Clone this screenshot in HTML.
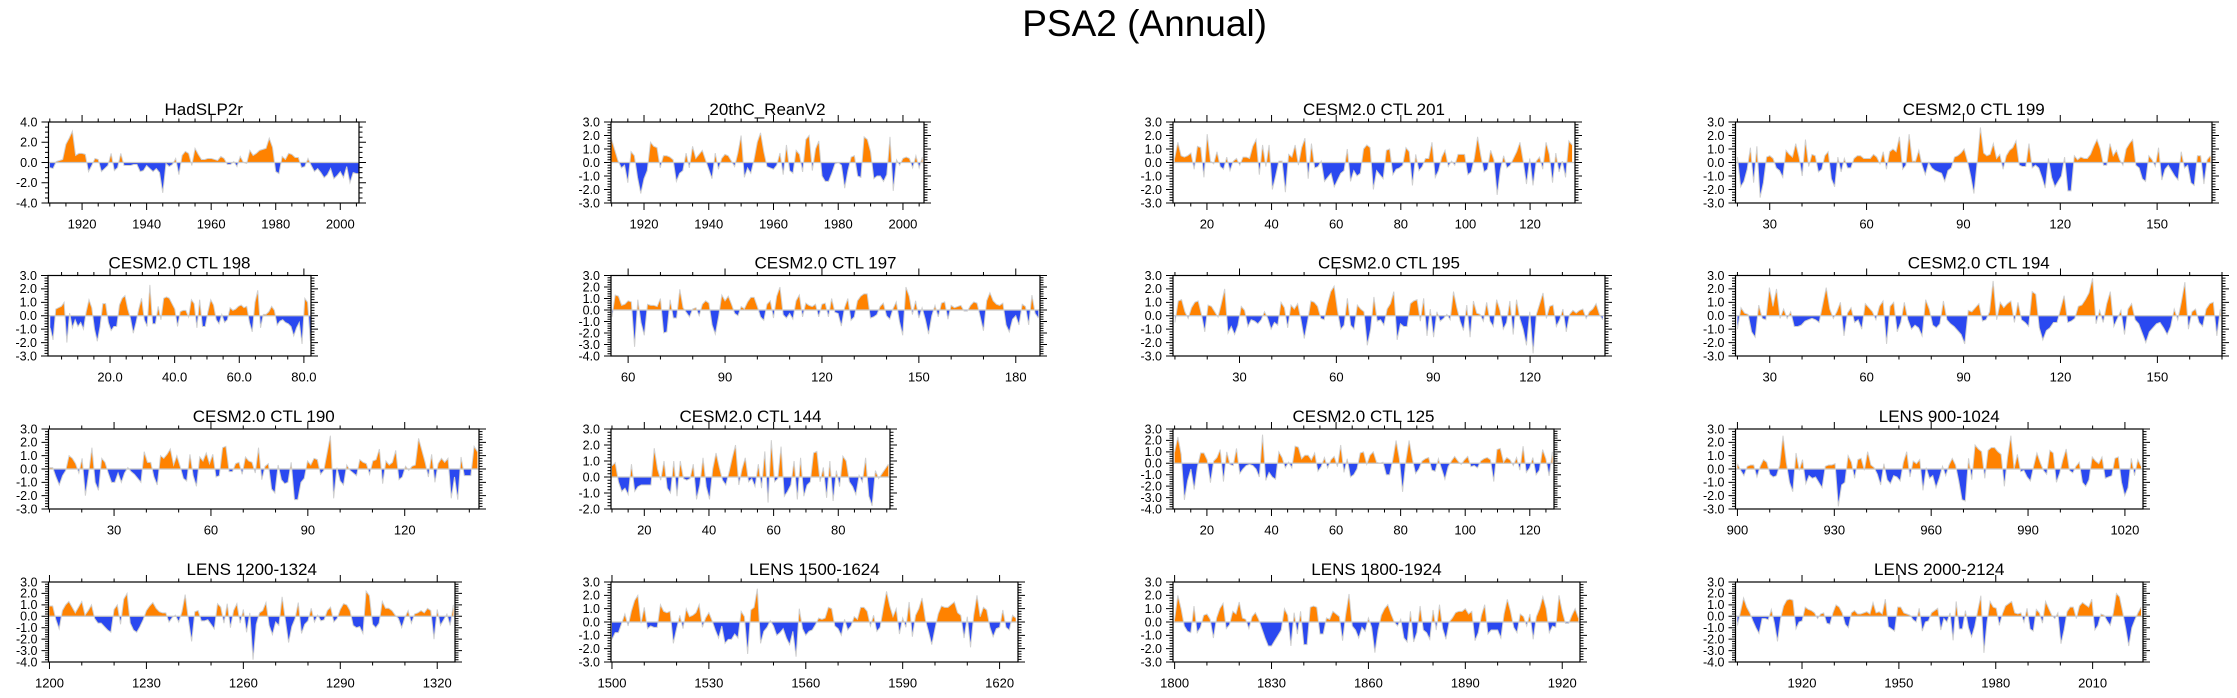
<!DOCTYPE html>
<html><head><meta charset="utf-8"><title>PSA2 (Annual)</title>
<style>
html,body{margin:0;padding:0;background:#fff;}
svg{display:block;font-family:"Liberation Sans",Arial,sans-serif;}
</style></head>
<body>
<svg id="fig" width="2237" height="698" viewBox="0 0 2237 698" xmlns="http://www.w3.org/2000/svg">
<text x="1267" y="36" text-anchor="end" font-size="37" fill="#000">PSA2 (Annual)</text>
</svg>
<script>
// ---- data ----
const hadslp2rValues=[-0.5,-0.6,0.1,0.2,0.3,1.8,2.4,3.1,0.7,0.9,0.9,0.8,-0.9,-0.3,0.4,0.3,-0.9,-0.6,-0.3,0.9,-0.8,-0.5,0.9,-0.3,-0.3,-0.3,-0.2,-0.2,-0.9,-0.8,-0.3,-0.6,-0.9,-0.6,-1.0,-3.0,-0.1,-0.4,-0.2,0.4,-1.2,0.7,1.1,0.9,-0.3,1.4,0.8,0.3,0.3,0.4,0.4,0.3,0.2,0.6,0.4,-0.2,-0.2,0.1,-0.4,0.6,0.0,-0.1,1.2,0.7,0.9,1.2,1.3,1.4,2.4,1.5,-0.9,-1.1,0.6,0.3,0.9,0.8,0.5,0.5,-0.5,-0.4,0.4,-0.3,-0.9,-0.6,-1.0,-1.5,-1.2,-0.6,-1.6,-1.3,-0.9,-1.5,-0.4,-2.0,-1.0,-1.1,-1.1];
const reanv2Values=[1.7,0.9,0.1,-0.4,-0.2,-1.5,0.8,0.5,-1.1,-2.3,-1.2,-0.6,1.5,1.2,1.1,-0.4,0.5,0.5,0.4,0.2,-1.4,-0.8,-0.6,0.7,-0.4,1.2,0.3,0.6,0.9,0.2,-0.5,-1.2,0.7,-0.5,0.3,0.6,0.5,0.1,-0.3,0.7,2.0,-1.1,-0.4,-0.8,0.2,1.5,2.2,0.8,-0.3,-0.4,-0.5,-0.2,0.7,-0.9,1.3,-0.6,-0.8,0.9,0.6,-0.7,1.7,2.0,-0.6,1.0,1.6,-1.0,-1.4,-1.4,-0.8,-0.1,0.0,-0.2,-1.9,-0.6,0.4,0.5,-1.0,-1.1,1.9,1.7,0.8,-1.2,-1.0,-1.0,-1.4,-0.9,1.9,-2.1,0.2,-0.2,0.3,0.4,0.3,-0.4,0.5,-0.4,0.4];
const ctl201Values=[0.3,1.5,0.5,0.4,0.5,0.7,-0.5,1.2,1.1,-1.1,2.1,0.1,-0.1,0.8,-0.3,-0.5,0.4,-0.6,0.1,0.3,-0.2,0.4,0.4,0.3,1.2,1.7,-0.9,1.3,-0.3,1.3,-2.0,-1.0,0.1,0.1,-2.2,0.6,0.4,1.3,-0.2,1.1,1.8,-1.2,1.4,-0.4,-0.3,0.1,-1.4,-1.1,-0.8,-1.8,-1.3,-0.8,-0.6,1.0,-1.4,-0.6,-1.0,-0.8,1.0,1.3,1.1,-2.0,-0.6,-0.9,-1.2,0.9,1.0,-0.9,-0.5,-0.4,-0.2,1.1,0.8,-1.7,0.6,-0.6,-0.3,0.3,0.3,1.5,-1.1,-0.6,0.4,0.9,-0.3,0.1,-0.2,0.6,0.6,0.6,-0.9,-0.7,0.3,1.9,0.5,-0.7,-0.5,0.9,0.2,-2.4,-0.5,0.5,-0.4,-0.2,0.3,0.8,1.5,0.1,-1.6,0.3,-1.7,0.1,0.4,-0.5,1.5,0.6,-1.5,0.7,-0.7,0.1,-1.1,1.6,1.3];
const ctl199Values=[0.4,-1.8,-1.4,-0.5,1.1,-1.5,1.2,-2.6,-1.5,0.4,0.5,0.3,-0.4,-0.6,-1.1,0.9,0.6,0.4,1.4,0.4,-1.0,1.7,-0.3,0.6,0.5,-0.7,-0.5,0.5,0.8,-1.2,-1.8,0.4,-0.7,0.3,-0.4,-0.4,0.3,0.5,0.5,0.3,0.3,0.3,0.6,0.4,-0.1,0.8,-0.5,0.8,1.0,0.8,1.9,-0.5,-0.2,2.1,0.1,0.1,0.9,-0.2,-0.9,0.0,-0.4,-0.6,-0.7,-0.8,-1.4,-0.6,-0.4,0.4,0.5,0.7,1.0,0.1,-1.0,-2.3,0.0,2.6,0.7,0.5,0.6,1.4,0.3,0.6,-0.5,0.5,0.9,1.1,1.6,-0.2,-0.3,-0.3,1.4,-0.4,-0.2,-0.4,-1.1,-1.9,0.3,-1.1,-1.8,-1.4,-1.0,0.4,-2.1,-2.1,0.5,0.2,0.4,0.3,0.3,0.6,1.2,1.7,1.0,-0.2,-0.2,1.4,0.5,0.9,0.2,-0.2,1.0,1.4,1.7,-0.2,-0.4,-1.2,-1.4,0.5,0.2,-0.3,1.1,-1.3,-0.5,-0.2,-0.6,-1.0,-1.3,0.8,-0.4,-0.2,-1.5,-1.7,0.5,0.5,-1.6,0.2,0.5];
const ctl198Values=[-0.9,-1.8,0.5,0.6,0.7,1.0,-2.0,0.2,-0.9,-0.3,-0.8,-0.5,-1.0,0.3,1.2,0.6,-1.0,-1.9,-0.8,0.9,0.9,-0.5,-1.1,-0.8,-0.8,0.8,1.3,1.5,0.5,-0.2,-1.3,-0.5,0.5,1.3,-0.3,-0.8,2.3,-0.6,-0.6,0.7,-0.3,1.3,1.4,1.3,0.9,0.5,-0.8,0.3,0.4,0.4,-0.1,1.2,0.9,-0.9,1.2,-0.8,-0.8,0.3,1.2,0.8,-0.3,-0.6,0.1,-0.5,-0.3,0.6,0.4,0.5,0.7,0.8,0.6,0.7,-0.5,-1.2,1.0,1.9,-0.9,0.1,0.1,0.3,0.7,0.4,-0.7,-0.4,-0.3,-0.5,-0.6,-0.8,-1.5,-0.9,-0.5,-2.1,1.3,1.0,-1.9];
const ctl197Values=[-0.6,1.3,1.2,0.4,0.5,0.8,0.7,-3.2,0.9,-1.1,-2.2,0.5,0.4,0.4,0.3,1.0,-2.0,-1.9,0.9,-0.7,-0.7,1.8,0.2,-0.2,-0.6,0.1,0.2,-0.5,0.5,0.8,0.6,-1.3,-2.1,-0.6,1.3,0.8,1.2,0.5,-0.3,-0.5,0.3,0.1,0.7,1.1,1.1,0.3,-0.6,-0.9,0.5,0.8,-0.7,1.2,2.0,-0.4,-0.7,-0.3,-0.8,0.8,1.3,-0.6,0.6,0.4,0.3,0.5,-0.6,0.5,0.6,-0.6,1.0,-0.2,-0.3,-1.4,0.2,1.0,-0.9,-0.6,0.8,1.2,1.4,1.4,-0.7,-0.6,-0.4,0.3,0.6,-0.5,-0.8,0.1,0.7,-1.0,-2.2,2.0,1.2,-0.4,0.8,-0.7,0.2,-0.8,-2.1,-0.5,0.4,-0.6,0.6,0.7,-0.8,0.4,0.2,0.3,0.4,-0.1,-0.1,0.4,0.7,0.6,-0.6,-1.8,0.8,1.5,0.8,0.5,0.4,0.6,-1.3,-1.9,-0.8,-0.5,-1.3,0.5,0.3,-1.3,1.3,-0.3,-0.7];
const ctl195Values=[-0.5,1.1,1.2,0.3,-0.2,0.6,1.0,1.1,0.1,-1.2,0.8,0.7,0.3,-0.1,0.9,2.0,-1.3,-0.8,-1.4,-0.7,0.7,0.4,-0.8,-0.3,-0.4,-0.6,-0.3,0.3,-0.2,-1.0,-0.5,-0.7,1.0,0.6,-0.9,0.8,0.5,0.9,-0.3,-1.7,-0.4,1.1,1.0,0.7,-0.2,-0.3,0.9,1.8,2.2,0.4,-1.0,-0.7,1.3,-0.7,-1.0,0.8,0.5,0.3,-2.2,-1.0,1.4,-0.4,-0.3,-0.7,0.5,0.9,1.8,-1.8,-0.6,-0.8,-0.8,0.9,1.1,1.2,-0.4,1.3,-1.5,0.5,-1.6,0.3,-0.4,-0.2,0.1,-0.3,1.8,0.6,-0.4,-1.1,0.8,-1.6,1.1,0.2,0.1,-0.4,1.0,-0.4,-0.8,1.2,0.4,-1.0,-0.5,1.1,-1.4,1.2,-0.2,-1.0,-2.2,0.3,-2.8,0.1,0.9,1.7,-0.2,0.7,0.8,-0.8,-0.3,0.5,-1.2,0.1,0.4,0.2,0.4,0.5,-0.2,0.3,0.5,0.9,0.1,-0.3];
const ctl194Values=[-1.0,0.6,0.2,0.1,-1.2,-1.6,0.8,-0.2,-0.3,2.1,0.7,2.0,-0.2,0.5,-0.2,0.3,-0.8,-0.8,-0.7,-0.4,-0.3,-0.2,-0.3,-0.5,0.8,2.1,0.5,-0.2,0.3,1.0,-1.5,0.2,0.6,-0.5,-0.3,-1.0,0.9,0.6,0.3,-0.3,0.7,1.1,-2.1,0.7,1.0,-1.2,-0.5,1.0,-0.3,-1.0,-0.7,-0.9,-1.5,1.2,0.5,-0.7,-0.9,-0.6,1.1,-0.3,-0.6,-0.8,-1.1,-1.4,-2.1,0.4,0.3,0.6,0.9,-0.4,-0.3,0.3,2.6,-0.3,1.0,0.6,0.9,1.1,-0.5,1.0,-0.3,-0.5,-0.8,1.8,1.6,-0.9,-1.8,-1.1,-0.9,-0.5,-0.5,0.5,1.5,-0.5,-0.4,-0.2,0.7,0.8,1.2,1.7,2.8,-0.6,0.4,-0.5,0.9,1.8,-0.8,-0.2,0.4,-1.4,0.5,0.9,-0.3,-0.6,-1.3,-2.0,-1.2,-0.9,-0.6,-0.5,-0.9,-1.4,-0.8,0.5,-0.3,1.0,2.5,-1.0,0.3,0.5,-0.5,-0.8,0.5,0.9,1.0,-1.5,0.5];
const ctl190Values=[0.1,0.1,-0.6,-1.2,-0.5,-0.1,1.0,0.8,0.4,-0.3,0.8,-2.0,-0.3,1.6,-1.0,-1.6,0.8,0.5,-0.3,-1.0,-1.0,-0.3,-1.0,-0.3,0.1,-0.2,-0.4,-0.7,-1.0,1.3,0.5,0.5,-0.6,-1.2,1.0,0.8,1.1,1.5,0.3,1.0,0.2,-0.7,-0.9,1.1,-0.5,-1.3,0.9,0.6,1.2,0.4,1.1,-0.6,-0.5,1.6,1.7,-0.2,-0.2,0.4,0.5,-0.4,0.9,0.6,0.5,-0.3,1.6,-0.8,0.2,0.4,-1.5,-1.8,0.3,-0.8,-1.1,-1.0,0.5,-2.3,-2.3,-1.0,-0.7,0.6,0.3,0.8,0.7,-0.4,-0.1,1.2,2.5,-2.2,0.1,-0.9,-1.2,0.3,-0.1,-0.3,-0.5,0.7,0.5,0.4,-0.4,0.6,0.7,1.5,-1.1,0.6,0.3,0.5,1.4,-0.8,-0.6,0.2,-0.1,0.2,0.3,2.3,1.4,0.5,-0.6,1.1,-1.0,0.4,0.8,0.5,0.8,-2.2,-0.6,-2.3,0.9,-0.5,-0.5,-0.5,1.7,1.3];
const ctl144Values=[0.7,0.9,-0.3,-0.9,-0.7,-1.1,0.8,-0.9,-0.6,-0.5,-0.5,-0.5,-0.5,1.8,0.5,-0.2,1.0,-0.7,-1.0,1.0,-1.2,1.0,-0.1,-0.2,-0.1,0.8,-1.4,-0.5,1.2,-0.6,-1.4,0.5,1.5,0.6,-0.2,-0.5,0.3,1.2,2.0,-0.5,0.5,1.2,-0.3,-0.1,-0.6,0.8,-0.7,1.6,-1.6,2.3,-0.3,-0.1,1.9,-1.2,-0.9,-0.5,1.0,-1.4,1.2,-1.2,-0.5,-0.3,1.5,1.6,-0.3,0.6,-1.3,1.0,-1.5,0.4,-0.6,1.3,1.0,-0.3,-0.6,-1.1,0.1,-0.3,1.2,-1.2,-1.8,0.4,-0.1,0.2,0.5,0.8];
const ctl125Values=[1.0,2.3,0.8,-3.2,-1.5,-0.5,-2.3,-0.3,0.9,0.9,0.3,-1.7,0.2,0.5,1.2,-1.6,1.0,-0.1,-0.2,1.3,-0.9,-0.5,-0.2,-0.1,-0.2,-0.5,-1.2,2.5,-1.5,-0.8,-1.2,-1.4,1.0,0.5,-0.4,0.1,-0.4,1.5,1.4,0.4,0.7,0.7,0.3,0.9,-0.7,-0.3,0.5,-0.4,0.3,0.6,-0.3,1.6,-0.8,0.4,-1.2,-1.0,-0.5,0.9,1.0,-0.1,0.7,1.0,0.1,0.0,0.1,-1.0,-1.0,0.3,2.0,0.4,-2.5,0.2,2.0,0.4,-0.9,-0.5,0.2,0.4,0.5,-0.6,-0.7,0.4,-0.5,-1.4,-0.3,0.2,0.6,0.2,-0.1,0.3,0.6,-0.3,-0.2,-0.4,0.2,0.4,0.5,0.3,-1.6,1.2,1.3,0.1,0.5,0.3,-0.2,0.5,-0.6,1.5,-0.8,-0.4,0.5,-1.0,-0.6,1.2,0.4,-1.1,1.0];
const lens900Values=[0.4,-0.1,-0.5,0.2,0.3,0.3,-0.6,0.2,0.7,0.5,-0.4,-0.6,-0.5,0.3,2.5,0.5,-1.0,-1.7,1.2,-0.1,0.7,-1.1,-0.5,-0.7,-0.6,-1.0,-1.4,0.2,0.3,0.3,0.4,-2.8,-1.2,-1.0,1.0,0.5,-0.7,0.7,0.8,-0.1,1.3,0.3,0.1,-0.4,-1.2,0.4,-0.8,-1.1,-0.5,-0.6,-0.9,0.5,1.3,-0.6,0.6,0.4,0.7,-1.6,0.1,-0.7,-0.5,-1.4,-0.7,0.2,-0.5,0.3,0.8,0.3,-0.9,-2.3,-2.4,0.8,-0.8,1.8,1.5,1.3,-0.7,1.4,1.6,1.6,1.3,1.1,-1.3,0.9,2.5,0.0,1.1,-0.2,-0.1,-0.6,-0.9,0.2,1.2,0.5,-0.1,-0.4,1.4,1.2,-1.0,-0.3,0.7,1.5,-0.1,-0.3,0.2,0.5,-1.0,-1.3,-0.8,0.9,0.6,0.4,0.9,-0.7,-0.6,-0.5,0.8,0.9,-1.0,-2.0,-1.4,0.8,-0.5,0.7,0.2];
const lens1200Values=[0.9,0.9,-0.3,-1.1,0.5,1.0,1.3,0.8,0.3,0.8,1.3,0.1,0.5,1.0,-0.2,-0.6,-0.6,-0.9,-1.2,-1.4,0.6,1.0,-0.7,1.5,2.0,-0.6,-1.2,-1.4,-0.9,-0.3,0.5,0.9,1.2,0.7,0.4,0.3,0.3,-0.5,-0.1,0.1,-0.5,0.4,1.9,-0.3,-2.2,0.4,0.5,-0.4,-0.4,-0.3,-0.7,-1.1,1.1,0.8,-0.6,1.1,-1.0,0.5,1.1,-0.6,0.6,-1.4,0.3,-3.8,-0.7,0.3,0.5,1.2,-0.8,-1.6,-0.5,-0.8,1.7,-0.3,-2.3,-0.9,-0.2,1.2,-1.5,-0.7,-0.4,0.7,-0.5,0.1,-0.4,-0.3,0.5,0.8,-0.5,-0.2,0.6,1.1,1.0,0.5,-0.8,-1.0,-0.9,-1.5,2.2,1.8,-0.7,-1.0,-0.6,1.3,0.7,0.7,0.5,0.1,-0.2,-1.0,-0.1,0.5,-0.6,0.2,0.3,0.5,0.3,0.7,0.5,-2.0,0.6,-0.8,-0.3,0.2,-0.8,1.0];
const lens1500Values=[-1.3,-0.8,-0.8,-0.1,0.6,-0.3,0.8,1.6,2.0,-0.1,1.1,-0.5,-0.3,-0.4,-0.4,1.3,0.8,0.7,0.8,-1.6,-0.5,0.5,-0.5,1.0,0.4,0.5,0.7,1.3,-0.4,0.3,0.7,0.1,-0.6,-1.2,-0.3,-1.6,-1.3,-1.3,-0.9,-1.2,0.8,0.4,-2.4,0.9,1.1,2.5,-1.6,-0.7,-0.4,0.1,-0.3,-1.0,-0.8,-0.5,-1.2,-1.7,-0.7,-2.6,1.0,-0.5,-1.0,-0.7,-0.6,-0.2,0.3,0.2,0.3,1.1,1.0,-0.3,-0.5,-1.0,0.2,-0.6,-0.3,0.4,0.2,1.1,1.1,0.8,-0.3,0.5,-0.7,-0.4,1.0,2.3,1.2,0.4,1.0,-0.9,0.3,-0.4,1.5,-1.1,0.5,1.0,1.8,0.2,-0.7,-1.7,-0.5,0.6,1.2,1.1,1.1,1.3,1.5,0.7,0.5,-1.2,0.4,-1.9,0.5,2.0,0.4,1.1,0.9,-0.4,-1.1,-0.5,-0.4,0.9,-0.4,-0.6,0.5,0.3];
const lens1800Values=[0.2,2.0,1.0,-0.3,-0.7,-0.8,1.2,-0.8,-0.4,0.5,0.6,0.2,-1.2,0.3,1.0,1.4,-0.5,-0.2,0.8,0.6,1.5,0.3,0.2,-0.5,0.4,0.7,0.2,-0.5,-1.2,-1.8,-1.8,-1.4,-1.0,-0.6,1.0,0.5,-1.8,0.7,-0.9,0.8,-1.7,-1.7,1.1,1.2,1.1,-0.9,-0.9,0.3,0.2,0.8,0.6,0.4,-1.4,0.6,2.1,-0.3,-0.6,-1.2,-0.4,-0.7,0.3,-0.4,-2.3,-0.6,0.5,1.0,1.3,0.6,0.0,-0.3,0.2,-1.2,-1.5,0.8,-1.5,-0.8,1.2,-0.6,-0.8,-1.3,0.9,-0.6,1.3,-0.5,-1.3,0.0,0.3,0.7,0.8,0.8,1.0,0.6,0.8,-1.4,-0.8,0.5,1.3,-0.9,-0.6,-0.6,-0.6,-1.2,0.6,1.7,0.8,-0.4,-0.8,0.6,0.4,-0.3,0.6,-1.3,0.4,1.0,1.9,1.0,-0.8,-0.3,-0.4,2.0,0.8,-0.1,-0.1,0.5,1.0,0.3];
const lens2000Values=[-0.8,0.4,1.6,0.8,0.3,-0.4,-1.0,-1.5,-0.2,-0.2,-0.3,0.6,-0.6,-2.2,-0.2,0.9,1.4,1.5,1.4,-1.1,-0.5,-0.4,0.8,0.6,0.5,0.3,-0.2,0.2,0.3,-0.6,-0.7,0.3,1.0,0.8,0.3,-0.7,-1.0,0.3,0.5,0.2,0.2,0.3,0.4,0.2,1.2,0.3,0.4,0.2,1.5,-0.9,-1.1,-1.3,0.8,0.8,0.3,0.2,0.1,-0.3,-0.5,0.7,-1.3,-0.5,-0.4,0.3,0.5,0.7,-1.2,-0.2,-0.5,0.3,-2.1,1.3,-1.1,-1.1,0.5,-1.0,-1.8,-0.9,0.5,1.8,-3.2,-0.5,1.3,0.8,0.7,-0.8,0.2,0.9,1.1,1.3,0.3,0.2,0.3,-0.5,0.7,-1.1,-1.3,0.6,0.3,-0.6,1.3,0.7,0.1,-0.2,0.3,-2.4,-1.2,0.4,0.8,0.8,-0.2,0.9,1.2,1.0,0.8,1.5,-1.2,-0.8,0.2,0.1,-0.4,-0.8,0.3,2.0,1.7,0.4,-1.0,-2.6,-1.0,-0.3,0.3,0.8];

// tick label arrays
const hadslp2rYTicks=[-4,-2,0,2,4];
const yTicks3=[-3,-2,-1,0,1,2,3];
const yTicks43=[-4,-3,-2,-1,0,1,2,3];
const yTicks23=[-2,-1,0,1,2,3];
const xTicksCentury=[1920,1940,1960,1980,2000];
const xTicksBy20=[20,40,60,80,100,120];
const xTicksBy30=[30,60,90,120,150];
const xTicks198=[20,40,60,80];
const xTicks197=[60,90,120,150,180];
const xTicks144=[20,40,60,80];
const xTicks900=[900,930,960,990,1020];
const xTicks1200=[1200,1230,1260,1290,1320];
const xTicks1500=[1500,1530,1560,1590,1620];
const xTicks1800=[1800,1830,1860,1890,1920];
const xTicks2000=[1920,1950,1980,2010];

// ---- layout ----
const R1=[122,203],R2=[275.5,356],R3=[429,509],R4=[582,662];
const panels=[
 {id:'hadslp2r',title:'HadSLP2r',vals:hadslp2rValues,d0:1910,d1:2006,x0:1909.6,x1:2005.8,yt:hadslp2rYTicks,ymin:-4,ymax:4,ym:0.5,xt:xTicksCentury,xm:5,dec:0,box:[48.5,359],row:R1},
 {id:'20thc-reanv2',title:'20thC_ReanV2',vals:reanv2Values,d0:1910,d1:2006,x0:1909.8,x1:2006.5,yt:yTicks3,ymin:-3,ymax:3,ym:0.2,xt:xTicksCentury,xm:5,dec:0,box:[611,924],row:R1},
 {id:'ctl-201',title:'CESM2.0 CTL 201',vals:ctl201Values,d0:10,d1:133,x0:9.5,x1:133.9,yt:yTicks3,ymin:-3,ymax:3,ym:0.2,xt:xTicksBy20,xm:5,dec:0,box:[1173,1575],row:R1},
 {id:'ctl-199',title:'CESM2.0 CTL 199',vals:ctl199Values,d0:20,d1:166.5,x0:19.4,x1:167,yt:yTicks3,ymin:-3,ymax:3,ym:0.2,xt:xTicksBy30,xm:10,dec:0,box:[1735.5,2212],row:R1},
 {id:'ctl-198',title:'CESM2.0 CTL 198',vals:ctl198Values,d0:1.5,d1:82,x0:0.8,x1:82.2,yt:yTicks3,ymin:-3,ymax:3,ym:0.2,xt:xTicks198,xm:5,dec:1,box:[48,311],row:R2},
 {id:'ctl-197',title:'CESM2.0 CTL 197',vals:ctl197Values,d0:55,d1:187,x0:54.7,x1:187.5,yt:yTicks43,ymin:-4,ymax:3,ym:0.2,xt:xTicks197,xm:10,dec:0,box:[611,1040],row:R2},
 {id:'ctl-195',title:'CESM2.0 CTL 195',vals:ctl195Values,d0:10,d1:142.5,x0:9.4,x1:143.2,yt:yTicks3,ymin:-3,ymax:3,ym:0.2,xt:xTicksBy30,xm:10,dec:0,box:[1173,1605],row:R2},
 {id:'ctl-194',title:'CESM2.0 CTL 194',vals:ctl194Values,d0:20,d1:169.5,x0:19.4,x1:170,yt:yTicks3,ymin:-3,ymax:3,ym:0.2,xt:xTicksBy30,xm:10,dec:0,box:[1735.5,2222],row:R2},
 {id:'ctl-190',title:'CESM2.0 CTL 190',vals:ctl190Values,d0:10,d1:142.5,x0:9.7,x1:143,yt:yTicks3,ymin:-3,ymax:3,ym:0.2,xt:xTicksBy30,xm:10,dec:0,box:[48.5,479],row:R3},
 {id:'ctl-144',title:'CESM2.0 CTL 144',vals:ctl144Values,d0:10,d1:95.5,x0:9.7,x1:96,yt:yTicks23,ymin:-2,ymax:3,ym:0.2,xt:xTicks144,xm:5,dec:0,box:[611,890],row:R3},
 {id:'ctl-125',title:'CESM2.0 CTL 125',vals:ctl125Values,d0:10,d1:127,x0:9.5,x1:127.5,yt:yTicks43,ymin:-4,ymax:3,ym:0.2,xt:xTicksBy20,xm:5,dec:0,box:[1173,1554],row:R3},
 {id:'lens-900',title:'LENS 900-1024',vals:lens900Values,d0:900,d1:1025,x0:899.4,x1:1025.6,yt:yTicks3,ymin:-3,ymax:3,ym:0.2,xt:xTicks900,xm:10,dec:0,box:[1735.5,2143],row:R3},
 {id:'lens-1200',title:'LENS 1200-1324',vals:lens1200Values,d0:1200,d1:1325,x0:1199.7,x1:1325.5,yt:yTicks43,ymin:-4,ymax:3,ym:0.2,xt:xTicks1200,xm:10,dec:0,box:[48.5,455],row:R4},
 {id:'lens-1500',title:'LENS 1500-1624',vals:lens1500Values,d0:1500,d1:1625,x0:1499.7,x1:1625.7,yt:yTicks3,ymin:-3,ymax:3,ym:0.2,xt:xTicks1500,xm:10,dec:0,box:[611,1018],row:R4},
 {id:'lens-1800',title:'LENS 1800-1924',vals:lens1800Values,d0:1800,d1:1925,x0:1799.5,x1:1925.5,yt:yTicks3,ymin:-3,ymax:3,ym:0.2,xt:xTicks1800,xm:10,dec:0,box:[1173,1580],row:R4},
 {id:'lens-2000',title:'LENS 2000-2124',vals:lens2000Values,d0:1900,d1:2025,x0:1899.4,x1:2025.6,yt:yTicks43,ymin:-4,ymax:3,ym:0.2,xt:xTicks2000,xm:10,dec:0,box:[1735.5,2143],row:R4}
];

const NS='http://www.w3.org/2000/svg';
const svg=document.getElementById('fig');
function mk(tag,attrs,parent){const e=document.createElementNS(NS,tag);for(const k in attrs)e.setAttribute(k,attrs[k]);parent.appendChild(e);return e;}

panels.forEach((p,pi)=>{
  const L=p.box[0],Rt=p.box[1],T=p.row[0],B=p.row[1];
  const sx=v=>L+(v-p.x0)/(p.x1-p.x0)*(Rt-L);
  const sy=v=>B-(v-p.ymin)/(p.ymax-p.ymin)*(B-T);
  const g=mk('g',{},svg);
  
  
  const cid='clip'+pi;
  const defs=mk('defs',{},g);
  const cpA=mk('clipPath',{id:cid+'a'},defs);
  mk('rect',{x:L,y:T,width:Rt-L,height:sy(0)-T},cpA);
  const cpB=mk('clipPath',{id:cid+'b'},defs);
  mk('rect',{x:L,y:sy(0),width:Rt-L,height:B-sy(0)},cpB);
  const n=p.vals.length;
  const pts=p.vals.map((v,i)=>[sx(p.d0+i*(p.d1-p.d0)/(n-1)),sy(v)]);
  const line=pts.map(q=>q[0].toFixed(2)+','+q[1].toFixed(2)).join(' ');
  const area=pts[0][0].toFixed(2)+','+sy(0).toFixed(2)+' '+line+' '+pts[n-1][0].toFixed(2)+','+sy(0).toFixed(2);
  const above=mk('polygon',{points:area,fill:'#ff8200','clip-path':'url(#'+cid+'a)'},g);
  
  
  const below=mk('polygon',{points:area,fill:'#2a48f0','clip-path':'url(#'+cid+'b)'},g);
  
  
  const zl=mk('line',{x1:L,x2:Rt,y1:sy(0),y2:sy(0),stroke:'#c8c8c8','stroke-width':1.2},g);
  
  
  const pl=mk('polyline',{points:line,fill:'none',stroke:'#d0d0d0','stroke-width':1},g);
  
  
  const bx=mk('rect',{x:L,y:T,width:Rt-L,height:B-T,fill:'none',stroke:'#000','stroke-width':1.2},g);
  
  
  // ticks
  let tp='';
  for(let v=p.ymin;v<=p.ymax+1e-6;v+=p.ym){const y=sy(v);const maj=p.yt.some(t=>Math.abs(t-v)<1e-6);const len=maj?7:3.5;tp+=`M${L},${y}h${-len}M${Rt},${y}h${len}`;}
  for(let v=Math.ceil(p.x0/p.xm)*p.xm;v<=p.x1;v+=p.xm){const x=sx(v);const maj=p.xt.includes(v);const len=maj?7:3.5;tp+=`M${x},${B}v${len}M${x},${T}v${-len}`;}
  const tk=mk('path',{d:tp,stroke:'#000','stroke-width':1,fill:'none'},g);
  
  
  p.yt.forEach(v=>{
    const t=mk('text',{x:L-11,y:sy(v)+4.3,'text-anchor':'end','font-size':12.5,fill:'#000'},g);
    
    
    t.textContent=v.toFixed(1);
  });
  p.xt.filter(v=>v>=p.x0&&v<=p.x1).forEach(v=>{
    const t=mk('text',{x:sx(v),y:B+25.5,'text-anchor':'middle','font-size':13,fill:'#000'},g);
    
    
    t.textContent=p.dec?v.toFixed(1):String(v);
  });
  const tt=mk('text',{x:(L+Rt)/2,y:T-7,'text-anchor':'middle','font-size':17,fill:'#000'},g);
  
  
  tt.textContent=p.title;
});
</script>
</body></html>
